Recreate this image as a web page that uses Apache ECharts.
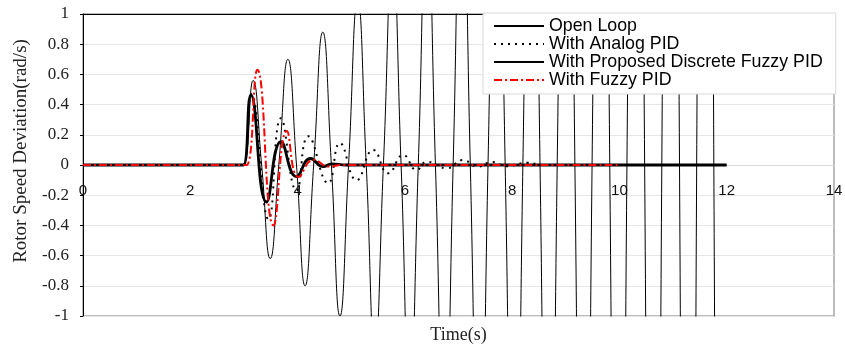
<!DOCTYPE html>
<html>
<head>
<meta charset="utf-8">
<title>Rotor Speed Deviation</title>
<script src="https://cdn.jsdelivr.net/npm/echarts@6/dist/echarts.min.js"></script>
<style>
    html, body {margin: 0; padding: 0; background: #fff;}
    #chart {width: 845px; height: 350px;}
</style>
</head>
<body>
<div id="chart"></div>
<script>
    // values: time (s) and rotor speed deviation (rad/s)
    let seriesNames = ['Open Loop', 'With Analog PID', 'With Proposed Discrete Fuzzy PID', 'With Fuzzy PID']

    let olTime = [0, 2.9, 2.99, 3.17, 3.33, 3.49, 3.65, 3.82, 3.98, 4.14, 4.30, 4.47, 4.63, 4.79, 4.95, 5.12, 5.28,
        5.44, 5.60, 5.77, 5.93, 6.09, 6.25, 6.41, 6.57, 6.74, 6.90, 7.06, 7.22, 7.39, 7.55, 7.71, 7.87, 8.04, 8.20,
        8.36, 8.52, 8.68, 8.84, 9.01, 9.17, 9.33, 9.49, 9.66, 9.82, 9.98, 10.14, 10.31, 10.47, 10.63, 10.79, 10.96,
        11.12, 11.28, 11.44, 11.60, 11.76, 11.93]
    let olValue = [0, 0, 0, 0.56, 0, -0.62, 0, 0.70, 0, -0.80, 0, 0.88, 0, -1.0, 0, 1.1, 0,
        -1.24, 0, 1.4, 0, -1.57, 0, 1.77, 0, -2.0, 0, 2.25, 0, -2.5, 0, 2.8, 0, -3.2, 0,
        3.6, 0, -4.0, 0, 4.5, 0, -5.1, 0, 5.7, 0, -6.4, 0, 7.2, 0, -8.1, 0, 9.1,
        0, -10.2, 0, 11.5, 0, -12.9]

    let pidTime = [0, 2.9, 2.99, 3.14, 3.46, 3.69, 3.98, 4.20, 4.57, 4.79, 5.10, 5.41, 5.69, 5.97, 6.22, 6.41,
        6.78, 7.08, 7.36, 7.62, 7.90, 8.27, 8.6, 12]
    let pidValue = [0, 0, 0, 0.47, -0.36, 0.31, -0.17, 0.19, -0.12, 0.145, -0.10, 0.10, -0.055, 0.066, -0.033, 0.022,
        -0.022, 0.033, -0.011, 0.02, -0.008, 0.015, 0, 0]

    let propTime = [0, 2.9, 2.99, 3.13, 3.42, 3.69, 3.98, 4.24, 4.48, 4.64, 4.9, 12]
    let propValue = [0, 0, 0, 0.465, -0.245, 0.155, -0.077, 0.043, -0.011, 0.008, 0, 0]

    let fuzzyTime = [0, 2.95, 3.05, 3.25, 3.55, 3.80, 4.02, 4.30, 4.58, 4.85, 10.0]
    let fuzzyValue = [0, 0, 0, 0.63, -0.40, 0.225, -0.08, 0.035, -0.01, 0, 0]

    function pairs(t, v) {
        let out = []
        for (let i = 0; i < t.length; i++) {
            out.push([t[i], v[i]])
        }
        return out
    }

    function init() {
        let myChart = echarts.init(document.getElementById('chart'))
        let serif = 'Liberation Serif'
        let sans = 'Liberation Sans'
        // plot is 14..316 px high, so the y = 0 line sits 151 px above the bottom edge
        let zeroOffset = -151

        let option = {
            animation: false,
            grid: {
                left: 83,
                right: 11,
                top: 14,
                bottom: 34,
                containLabel: false,
                outerBoundsMode: 'none',
                show: true,
                borderColor: '#a6a6a6',
                borderWidth: 1.5
            },
            legend: {
                orient: 'vertical',
                left: 483,
                top: 13,
                padding: [4, 13, 5, 10],
                itemWidth: 50,
                itemHeight: 14,
                itemGap: 0,
                backgroundColor: '#fff',
                borderColor: '#d9d9d9',
                borderWidth: 1,
                data: seriesNames,
                itemStyle: {
                    opacity: 0
                },
                textStyle: {
                    fontFamily: sans,
                    fontSize: 17.8,
                    lineHeight: 18,
                    color: '#000'
                }
            },
            xAxis: [{
                type: 'value',
                min: 0,
                max: 14,
                interval: 2,
                offset: zeroOffset,
                name: 'Time(s)',
                nameLocation: 'middle',
                nameGap: 161,
                nameTextStyle: {
                    fontFamily: serif,
                    fontSize: 18,
                    color: '#222'
                },
                axisLine: {
                    onZero: false,
                    lineStyle: {
                        color: '#d9d9d9'
                    }
                },
                axisTick: {
                    show: false
                },
                splitLine: {
                    show: false
                },
                axisLabel: {
                    margin: 18,
                    fontFamily: sans,
                    fontSize: 15,
                    color: '#111'
                }
            }, {
                // black frame line along the top of the plot
                type: 'value',
                position: 'top',
                min: 0,
                max: 14,
                axisLine: {
                    show: true,
                    onZero: false,
                    lineStyle: {
                        color: '#000'
                    }
                },
                axisTick: {show: false},
                axisLabel: {show: false},
                splitLine: {show: false}
            }],
            yAxis: {
                type: 'value',
                min: -1,
                max: 1,
                interval: 0.2,
                name: 'Rotor Speed Deviation(rad/s)',
                nameLocation: 'middle',
                nameGap: 52,
                nameTextStyle: {
                    fontFamily: serif,
                    fontSize: 19,
                    color: '#222',
                    padding: [0, 0, 0, 28]
                },
                axisLine: {
                    show: true,
                    onZero: false,
                    lineStyle: {
                        color: '#000'
                    }
                },
                axisTick: {
                    show: true,
                    length: 3,
                    lineStyle: {
                        color: '#000'
                    }
                },
                splitLine: {
                    lineStyle: {
                        color: '#e6e6e6'
                    }
                },
                axisLabel: {
                    margin: 14,
                    fontFamily: serif,
                    fontSize: 17,
                    color: '#222'
                }
            },
            series: [{
                name: seriesNames[0],
                type: 'line',
                smooth: true,
                symbol: 'none',
                color: '#000',
                lineStyle: {color: '#000', width: 1},
                data: pairs(olTime, olValue)
            }, {
                name: seriesNames[1],
                type: 'line',
                smooth: true,
                symbol: 'none',
                color: '#000',
                lineStyle: {color: '#000', width: 2, type: [2, 5]},
                data: pairs(pidTime, pidValue)
            }, {
                name: seriesNames[2],
                type: 'line',
                smooth: true,
                symbol: 'none',
                color: '#000',
                lineStyle: {color: '#000', width: 2.8},
                data: pairs(propTime, propValue)
            }, {
                name: seriesNames[3],
                type: 'line',
                smooth: true,
                symbol: 'none',
                color: '#ff0000',
                lineStyle: {color: '#ff0000', width: 2, type: [8, 3, 2, 3]},
                data: pairs(fuzzyTime, fuzzyValue)
            }]
        }
        myChart.setOption(option)
    }

    init()
</script>
</body>
</html>
